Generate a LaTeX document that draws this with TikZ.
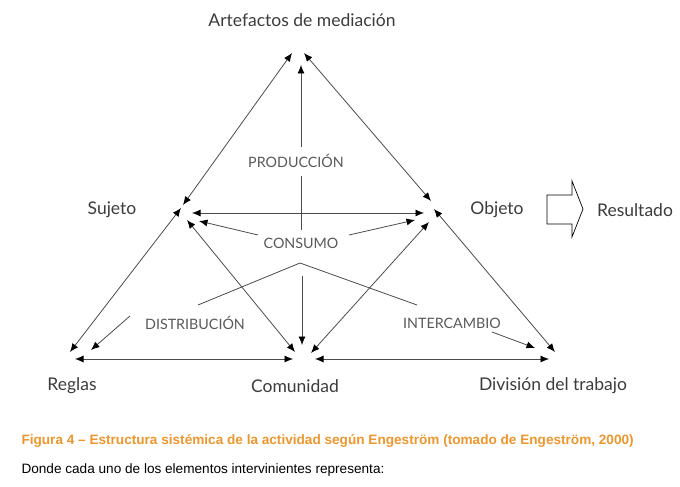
\documentclass[tikz,border=0pt]{standalone}
\usepackage{fontspec}
\setmainfont{Liberation Sans}
\newfontfamily\labelfont{Lato}
\usetikzlibrary{arrows.meta}
\definecolor{capcolor}{RGB}{238,150,45}
\definecolor{linecolor}{RGB}{75,75,75}
\definecolor{textcolor}{RGB}{60,60,60}
\tikzset{
  tip/.tip={Latex[length=8.5pt,width=7pt,black]},
  lbl/.style={font=\labelfont\fontsize{17.5}{20}\selectfont, text=textcolor},
  act/.style={font=\labelfont\fontsize{14.3}{17}\selectfont, text=textcolor!85},
  rel/.style={linecolor, line width=0.8pt, tip-tip},
  oneway/.style={linecolor, line width=0.8pt, -tip},
}
\begin{document}
\begin{tikzpicture}[x=1pt,y=-1pt]
        \useasboundingbox (0,0) rectangle (680,487);
        % labels of the triangle
        \node[lbl] (art) at (302,20) {Artefactos de mediación};
        \node[lbl] (suj) at (112,210) {Sujeto};
        \node[lbl] (obj) at (497,210) {Objeto};
        \node[lbl] (res) at (635,210) {Resultado};
        \node[lbl] (reg) at (72,386) {Reglas};
        \node[lbl] (com) at (295,386) {Comunidad};
        \node[lbl] (div) at (553,386) {División del trabajo};
        \node[act] (prod) at (296,161) {PRODUCCIÓN};
        \node[act] (cons) at (301,243) {CONSUMO};
        \node[act] (dist) at (195,323) {DISTRIBUCIÓN};
        \node[act] (inter) at (452,323) {INTERCAMBIO};
        % end points near the vertices
        \coordinate (a1) at (292,53);  \coordinate (a2) at (304,53);  \coordinate (a3) at (301,65);
        \coordinate (s1) at (183,205); \coordinate (s2) at (181,208); \coordinate (s3) at (192,213);
        \coordinate (s4) at (199,221); \coordinate (s5) at (187,220);
        \coordinate (o1) at (431,201); \coordinate (o2) at (434,209); \coordinate (o3) at (424,213);
        \coordinate (o4) at (415,220); \coordinate (o5) at (429,222);
        \coordinate (r1) at (70,352);  \coordinate (r2) at (91,350);  \coordinate (r3) at (75,359);
        \coordinate (c1) at (295,352); \coordinate (c2) at (302,345); \coordinate (c3) at (311,353);
        \coordinate (c4) at (293,359); \coordinate (c5) at (315,359);
        \coordinate (d1) at (555,352); \coordinate (d2) at (535,348); \coordinate (d3) at (549,359);
        % triangle
        \draw[rel] (a1) -- (s1);
        \draw[rel] (a2) -- (o1);
        \draw[rel] (s2) -- (r1);
        \draw[rel] (o2) -- (d1);
        \draw[rel] (s3) -- (o3);
        \draw[rel] (s5) -- (c1);
        \draw[rel] (o5) -- (c3);
        \draw[rel] (r3) -- (c4);
        \draw[rel] (c5) -- (d3);
        % inner relations
        \draw[linecolor, line width=0.8pt] (301,230) -- (301,176);
        \draw[oneway] (301,147) -- (a3);
        \draw[oneway] (258,235) -- (s4);
        \draw[oneway] (349,235) -- (o4);
        \draw[linecolor, line width=0.8pt] (198,305) -- (300,263) -- (417,305);
        \draw[oneway] (302,276) -- (c2);
        \draw[oneway] (130,316) -- (r2);
        \draw[oneway] (492,332) -- (d2);
        % result arrow
        \draw[black, line width=0.7pt] (547,195) -- (572,195) -- (572,181) -- (583,209)
              -- (572,237) -- (572,224) -- (547,224) -- cycle;
        % caption
        \node[anchor=west, text=capcolor, font=\bfseries\fontsize{13.6}{16}\selectfont] (cap) at (18,441)
              {Figura 4 – Estructura sistémica de la actividad según Engeström (tomado de Engeström, 2000)};
        \node[anchor=west, font=\fontsize{13.6}{16}\selectfont] (txt) at (18,470)
              {Donde cada uno de los elementos intervinientes representa:};
\end{tikzpicture}
\end{document}
